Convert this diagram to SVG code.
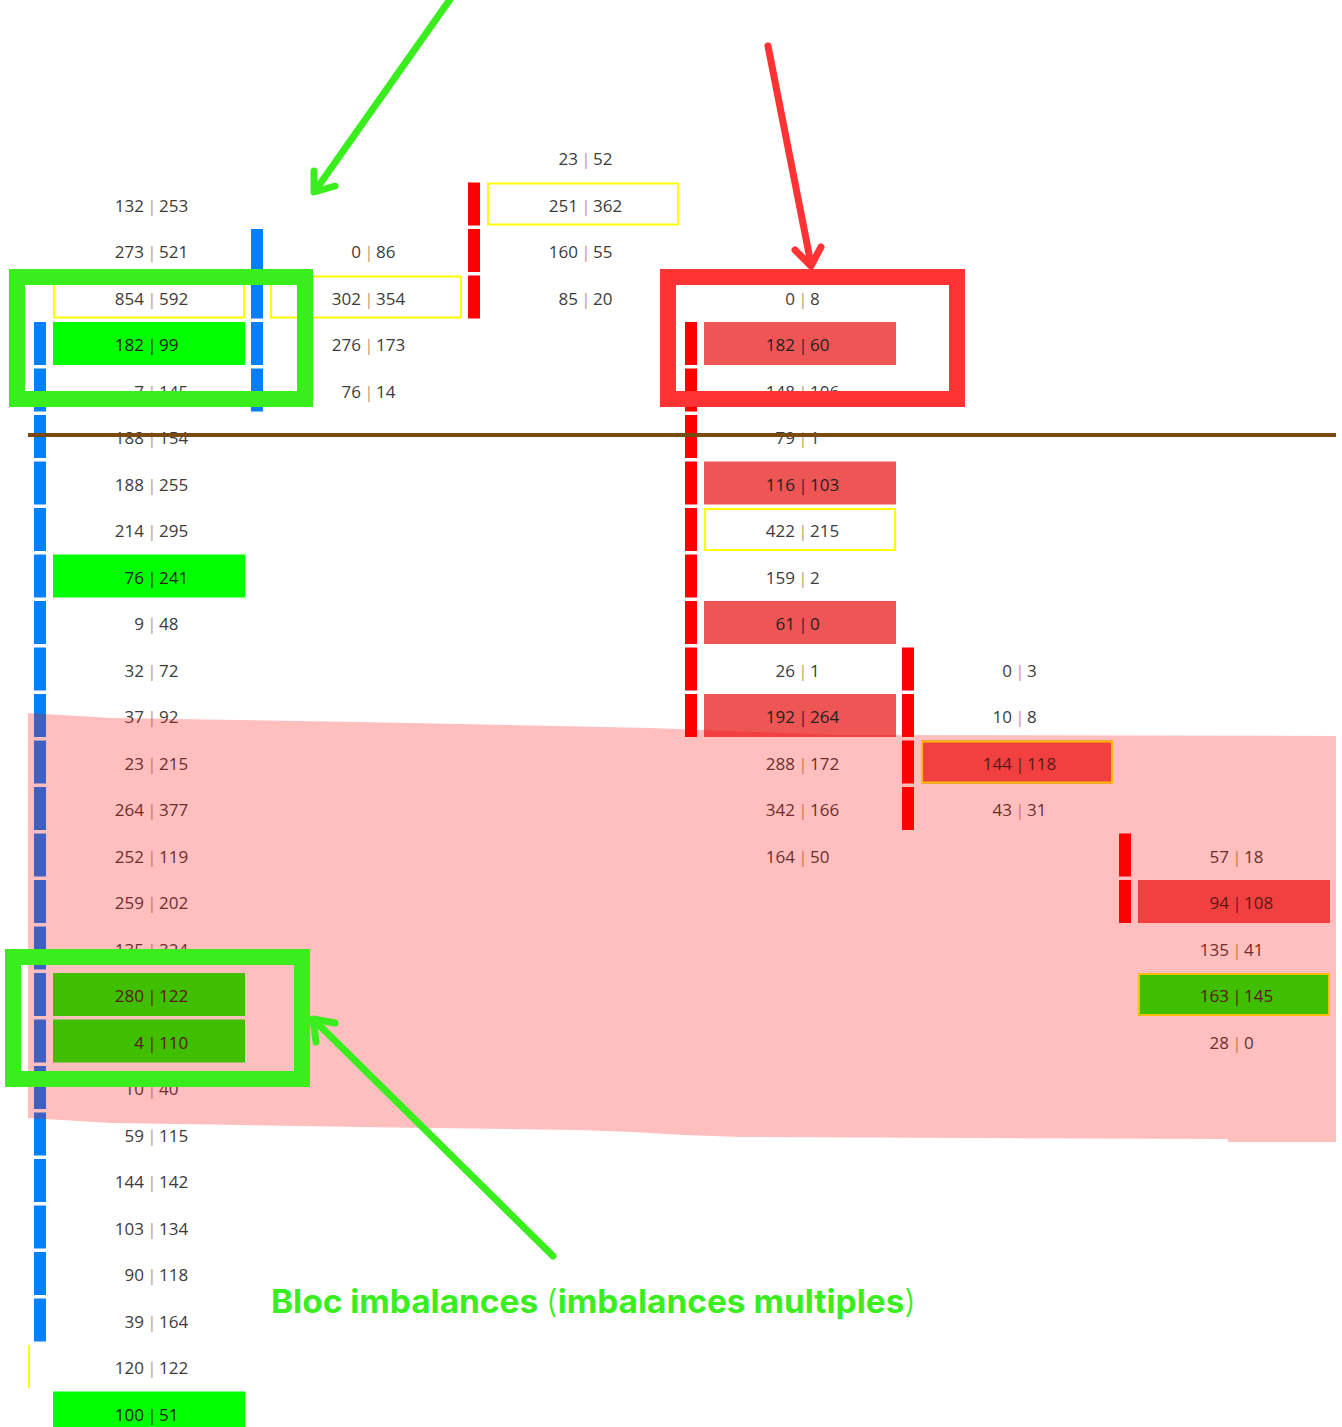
<svg xmlns="http://www.w3.org/2000/svg" width="1342" height="1427" viewBox="0 0 1342 1427">
<style>
.n{font-family:"Open Sans","Noto Sans",sans-serif;font-size:17px;fill:#3c3c3c}
.l{text-anchor:end}
.s{text-anchor:middle;fill:#d09a70}
.sd{text-anchor:middle;fill:#2a2a2a}
.d{fill:#222}
.bb{fill:#0080ff}
.rb{fill:#ff0000}
.g{fill:#00ff00}
.rc{fill:#ee5555}
.y{fill:none;stroke:#ffff00;stroke-width:2}
.fg{fill:none;stroke:#3aee1e;stroke-width:16}
.fr{fill:none;stroke:#ff3333;stroke-width:16}
.ag{fill:none;stroke:#3aee1e;stroke-width:7;stroke-linecap:round;stroke-linejoin:round}
.ar{fill:none;stroke:#ff3333;stroke-width:7;stroke-linecap:round;stroke-linejoin:round}
.title{font-family:Inter,"Liberation Sans",sans-serif;font-weight:700;font-size:32px;fill:#3aee1e}
</style>
<rect x="0" y="0" width="1342" height="1427" fill="#ffffff"/>

<!-- Column 0 bars (blue), rows 4..25 -->
<g id="bar-col0" class="bb">
<rect x="34" y="322" width="12" height="43"/><rect x="34" y="368.5" width="12" height="43"/><rect x="34" y="415" width="12" height="43"/><rect x="34" y="461.5" width="12" height="43"/><rect x="34" y="508" width="12" height="43"/><rect x="34" y="554.5" width="12" height="43"/><rect x="34" y="601" width="12" height="43"/><rect x="34" y="647.5" width="12" height="43"/><rect x="34" y="694" width="12" height="43"/><rect x="34" y="740.5" width="12" height="43"/><rect x="34" y="787" width="12" height="43"/><rect x="34" y="833.5" width="12" height="43"/><rect x="34" y="880" width="12" height="43"/><rect x="34" y="926.5" width="12" height="43"/><rect x="34" y="973" width="12" height="43"/><rect x="34" y="1019.5" width="12" height="43"/><rect x="34" y="1066" width="12" height="43"/><rect x="34" y="1112.5" width="12" height="43"/><rect x="34" y="1159" width="12" height="43"/><rect x="34" y="1205.5" width="12" height="43"/><rect x="34" y="1252" width="12" height="43"/><rect x="34" y="1298.5" width="12" height="43"/>
</g>
<line id="poc-mark" x1="29" y1="1345" x2="29" y2="1388" stroke="#ffff00" stroke-width="2"/>

<g id="bar-col1" class="bb">
<rect x="251" y="229" width="12" height="43"/><rect x="251" y="275.5" width="12" height="43"/><rect x="251" y="322" width="12" height="43"/><rect x="251" y="368.5" width="12" height="43"/>
</g>
<g id="bar-col2" class="rb">
<rect x="468" y="182.5" width="12" height="43"/><rect x="468" y="229" width="12" height="43"/><rect x="468" y="275.5" width="12" height="43"/>
</g>
<g id="bar-col3" class="rb">
<rect x="685" y="322" width="12" height="43"/><rect x="685" y="368.5" width="12" height="43"/><rect x="685" y="415" width="12" height="43"/><rect x="685" y="461.5" width="12" height="43"/><rect x="685" y="508" width="12" height="43"/><rect x="685" y="554.5" width="12" height="43"/><rect x="685" y="601" width="12" height="43"/><rect x="685" y="647.5" width="12" height="43"/><rect x="685" y="694" width="12" height="43"/>
</g>
<g id="bar-col4" class="rb">
<rect x="902" y="647.5" width="12" height="43"/><rect x="902" y="694" width="12" height="43"/><rect x="902" y="740.5" width="12" height="43"/><rect x="902" y="787" width="12" height="43"/>
</g>
<g id="bar-col5" class="rb">
<rect x="1119" y="833.5" width="12" height="43"/><rect x="1119" y="880" width="12" height="43"/>
</g>

<!-- Column 0 cells -->
<g id="c0r1" class="n"><text class="l" x="144" y="211.5">132</text><text class="s" x="152" y="211.5">|</text><text x="159" y="211.5">253</text></g>
<g id="c0r2" class="n"><text class="l" x="144" y="258">273</text><text class="s" x="152" y="258">|</text><text x="159" y="258">521</text></g>
<g id="c0r3" class="n"><rect class="y" x="54" y="276.5" width="190" height="41"/><text class="l" x="144" y="304.5">854</text><text class="s" x="152" y="304.5">|</text><text x="159" y="304.5">592</text></g>
<g id="c0r4" class="n"><rect class="g" x="53" y="322" width="192" height="43"/><text class="l d" x="144" y="351">182</text><text class="sd" x="152" y="351">|</text><text class="d" x="159" y="351">99</text></g>
<g id="c0r5" class="n"><text class="l" x="144" y="397.5">7</text><text class="s" x="152" y="397.5">|</text><text x="159" y="397.5">145</text></g>
<g id="c0r6" class="n"><text class="l" x="144" y="444">188</text><text class="s" x="152" y="444">|</text><text x="159" y="444">154</text></g>
<g id="c0r7" class="n"><text class="l" x="144" y="490.5">188</text><text class="s" x="152" y="490.5">|</text><text x="159" y="490.5">255</text></g>
<g id="c0r8" class="n"><text class="l" x="144" y="537">214</text><text class="s" x="152" y="537">|</text><text x="159" y="537">295</text></g>
<g id="c0r9" class="n"><rect class="g" x="53" y="554.5" width="192" height="43"/><text class="l d" x="144" y="583.5">76</text><text class="sd" x="152" y="583.5">|</text><text class="d" x="159" y="583.5">241</text></g>
<g id="c0r10" class="n"><text class="l" x="144" y="630">9</text><text class="s" x="152" y="630">|</text><text x="159" y="630">48</text></g>
<g id="c0r11" class="n"><text class="l" x="144" y="676.5">32</text><text class="s" x="152" y="676.5">|</text><text x="159" y="676.5">72</text></g>
<g id="c0r12" class="n"><text class="l" x="144" y="723">37</text><text class="s" x="152" y="723">|</text><text x="159" y="723">92</text></g>
<g id="c0r13" class="n"><text class="l" x="144" y="769.5">23</text><text class="s" x="152" y="769.5">|</text><text x="159" y="769.5">215</text></g>
<g id="c0r14" class="n"><text class="l" x="144" y="816">264</text><text class="s" x="152" y="816">|</text><text x="159" y="816">377</text></g>
<g id="c0r15" class="n"><text class="l" x="144" y="862.5">252</text><text class="s" x="152" y="862.5">|</text><text x="159" y="862.5">119</text></g>
<g id="c0r16" class="n"><text class="l" x="144" y="909">259</text><text class="s" x="152" y="909">|</text><text x="159" y="909">202</text></g>
<g id="c0r17" class="n"><text class="l" x="144" y="955.5">135</text><text class="s" x="152" y="955.5">|</text><text x="159" y="955.5">324</text></g>
<g id="c0r18" class="n"><rect class="g" x="53" y="973" width="192" height="43"/><text class="l d" x="144" y="1002">280</text><text class="sd" x="152" y="1002">|</text><text class="d" x="159" y="1002">122</text></g>
<g id="c0r19" class="n"><rect class="g" x="53" y="1019.5" width="192" height="43"/><text class="l d" x="144" y="1048.5">4</text><text class="sd" x="152" y="1048.5">|</text><text class="d" x="159" y="1048.5">110</text></g>
<g id="c0r20" class="n"><text class="l" x="144" y="1095">10</text><text class="s" x="152" y="1095">|</text><text x="159" y="1095">40</text></g>
<g id="c0r21" class="n"><text class="l" x="144" y="1141.5">59</text><text class="s" x="152" y="1141.5">|</text><text x="159" y="1141.5">115</text></g>
<g id="c0r22" class="n"><text class="l" x="144" y="1188">144</text><text class="s" x="152" y="1188">|</text><text x="159" y="1188">142</text></g>
<g id="c0r23" class="n"><text class="l" x="144" y="1234.5">103</text><text class="s" x="152" y="1234.5">|</text><text x="159" y="1234.5">134</text></g>
<g id="c0r24" class="n"><text class="l" x="144" y="1281">90</text><text class="s" x="152" y="1281">|</text><text x="159" y="1281">118</text></g>
<g id="c0r25" class="n"><text class="l" x="144" y="1327.5">39</text><text class="s" x="152" y="1327.5">|</text><text x="159" y="1327.5">164</text></g>
<g id="c0r26" class="n"><text class="l" x="144" y="1374">120</text><text class="s" x="152" y="1374">|</text><text x="159" y="1374">122</text></g>
<g id="c0r27" class="n"><rect class="g" x="53" y="1391.5" width="192" height="43"/><text class="l d" x="144" y="1420.5">100</text><text class="sd" x="152" y="1420.5">|</text><text class="d" x="159" y="1420.5">51</text></g>

<!-- Column 1 cells -->
<g id="c1r2" class="n"><text class="l" x="361" y="258">0</text><text class="s" x="369" y="258">|</text><text x="376" y="258">86</text></g>
<g id="c1r3" class="n"><rect class="y" x="271" y="276.5" width="190" height="41"/><text class="l" x="361" y="304.5">302</text><text class="s" x="369" y="304.5">|</text><text x="376" y="304.5">354</text></g>
<g id="c1r4" class="n"><text class="l" x="361" y="351">276</text><text class="s" x="369" y="351">|</text><text x="376" y="351">173</text></g>
<g id="c1r5" class="n"><text class="l" x="361" y="397.5">76</text><text class="s" x="369" y="397.5">|</text><text x="376" y="397.5">14</text></g>

<!-- Column 2 cells -->
<g id="c2r0" class="n"><text class="l" x="578" y="165">23</text><text class="s" x="586" y="165">|</text><text x="593" y="165">52</text></g>
<g id="c2r1" class="n"><rect class="y" x="488" y="183.5" width="190" height="41"/><text class="l" x="578" y="211.5">251</text><text class="s" x="586" y="211.5">|</text><text x="593" y="211.5">362</text></g>
<g id="c2r2" class="n"><text class="l" x="578" y="258">160</text><text class="s" x="586" y="258">|</text><text x="593" y="258">55</text></g>
<g id="c2r3" class="n"><text class="l" x="578" y="304.5">85</text><text class="s" x="586" y="304.5">|</text><text x="593" y="304.5">20</text></g>

<!-- Column 3 cells -->
<g id="c3r3" class="n"><text class="l" x="795" y="304.5">0</text><text class="s" x="803" y="304.5">|</text><text x="810" y="304.5">8</text></g>
<g id="c3r4" class="n"><rect class="rc" x="704" y="322" width="192" height="43"/><text class="l d" x="795" y="351">182</text><text class="sd" x="803" y="351">|</text><text class="d" x="810" y="351">60</text></g>
<g id="c3r5" class="n"><text class="l" x="795" y="397.5">148</text><text class="s" x="803" y="397.5">|</text><text x="810" y="397.5">106</text></g>
<g id="c3r6" class="n"><text class="l" x="795" y="444">79</text><text class="s" x="803" y="444">|</text><text x="810" y="444">1</text></g>
<g id="c3r7" class="n"><rect class="rc" x="704" y="461.5" width="192" height="43"/><text class="l d" x="795" y="490.5">116</text><text class="sd" x="803" y="490.5">|</text><text class="d" x="810" y="490.5">103</text></g>
<g id="c3r8" class="n"><rect class="y" x="705" y="509" width="190" height="41"/><text class="l" x="795" y="537">422</text><text class="s" x="803" y="537">|</text><text x="810" y="537">215</text></g>
<g id="c3r9" class="n"><text class="l" x="795" y="583.5">159</text><text class="s" x="803" y="583.5">|</text><text x="810" y="583.5">2</text></g>
<g id="c3r10" class="n"><rect class="rc" x="704" y="601" width="192" height="43"/><text class="l d" x="795" y="630">61</text><text class="sd" x="803" y="630">|</text><text class="d" x="810" y="630">0</text></g>
<g id="c3r11" class="n"><text class="l" x="795" y="676.5">26</text><text class="s" x="803" y="676.5">|</text><text x="810" y="676.5">1</text></g>
<g id="c3r12" class="n"><rect class="rc" x="704" y="694" width="192" height="43"/><text class="l d" x="795" y="723">192</text><text class="sd" x="803" y="723">|</text><text class="d" x="810" y="723">264</text></g>
<g id="c3r13" class="n"><text class="l" x="795" y="769.5">288</text><text class="s" x="803" y="769.5">|</text><text x="810" y="769.5">172</text></g>
<g id="c3r14" class="n"><text class="l" x="795" y="816">342</text><text class="s" x="803" y="816">|</text><text x="810" y="816">166</text></g>
<g id="c3r15" class="n"><text class="l" x="795" y="862.5">164</text><text class="s" x="803" y="862.5">|</text><text x="810" y="862.5">50</text></g>

<!-- Column 4 cells -->
<g id="c4r11" class="n"><text class="l" x="1012" y="676.5">0</text><text class="s" x="1020" y="676.5">|</text><text x="1027" y="676.5">3</text></g>
<g id="c4r12" class="n"><text class="l" x="1012" y="723">10</text><text class="s" x="1020" y="723">|</text><text x="1027" y="723">8</text></g>
<g id="c4r13" class="n"><rect class="rc" x="921" y="740.5" width="192" height="43"/><rect class="y" x="922" y="741.5" width="190" height="41"/><text class="l d" x="1012" y="769.5">144</text><text class="sd" x="1020" y="769.5">|</text><text class="d" x="1027" y="769.5">118</text></g>
<g id="c4r14" class="n"><text class="l" x="1012" y="816">43</text><text class="s" x="1020" y="816">|</text><text x="1027" y="816">31</text></g>

<!-- Column 5 cells -->
<g id="c5r15" class="n"><text class="l" x="1229" y="862.5">57</text><text class="s" x="1237" y="862.5">|</text><text x="1244" y="862.5">18</text></g>
<g id="c5r16" class="n"><rect class="rc" x="1138" y="880" width="192" height="43"/><text class="l d" x="1229" y="909">94</text><text class="sd" x="1237" y="909">|</text><text class="d" x="1244" y="909">108</text></g>
<g id="c5r17" class="n"><text class="l" x="1229" y="955.5">135</text><text class="s" x="1237" y="955.5">|</text><text x="1244" y="955.5">41</text></g>
<g id="c5r18" class="n"><rect class="g" x="1138" y="973" width="192" height="43"/><rect class="y" x="1139" y="974" width="190" height="41"/><text class="l d" x="1229" y="1002">163</text><text class="sd" x="1237" y="1002">|</text><text class="d" x="1244" y="1002">145</text></g>
<g id="c5r19" class="n"><text class="l" x="1229" y="1048.5">28</text><text class="s" x="1237" y="1048.5">|</text><text x="1244" y="1048.5">0</text></g>

<!-- pink zone overlay -->
<polygon id="zone" points="28,713 112,718 358,722 650,728 835,735 1336,736 1336,1142 1228,1142 1228,1139 740,1137 684,1135 632,1132 576,1130 358,1127 112,1123 28,1118" fill="#ff0000" fill-opacity="0.25"/>

<!-- brown price line -->
<line id="price-line" x1="28" y1="435" x2="1336" y2="435" stroke="#7b4a10" stroke-width="4"/>

<!-- highlight frames -->
<g id="frame-top-left"><rect class="fg" x="17" y="277" width="288" height="122"/></g>
<g id="frame-bottom-left"><rect class="fg" x="13" y="957" width="289" height="122"/></g>
<g id="frame-red"><rect class="fr" x="668" y="277" width="289" height="122"/></g>

<!-- annotation arrows -->
<g id="connectors">
<line class="ag" x1="451" y1="-2" x2="315" y2="191"/>
<polyline class="ag" points="314,171 314,192 335,186"/>
<line class="ar" x1="768" y1="46" x2="811" y2="264"/>
<polyline class="ar" points="795,250 811,266 821,247"/>
<line class="ag" x1="553" y1="1256" x2="314" y2="1020"/>
<polyline class="ag" points="316,1042 313,1019 335,1023"/>
</g>

<g id="label">
<text class="title" x="271" y="1313" textLength="645" lengthAdjust="spacingAndGlyphs">Bloc imbalances <tspan font-weight="300">(</tspan>imbalances multiples<tspan font-weight="300">)</tspan></text>
</g>
</svg>
